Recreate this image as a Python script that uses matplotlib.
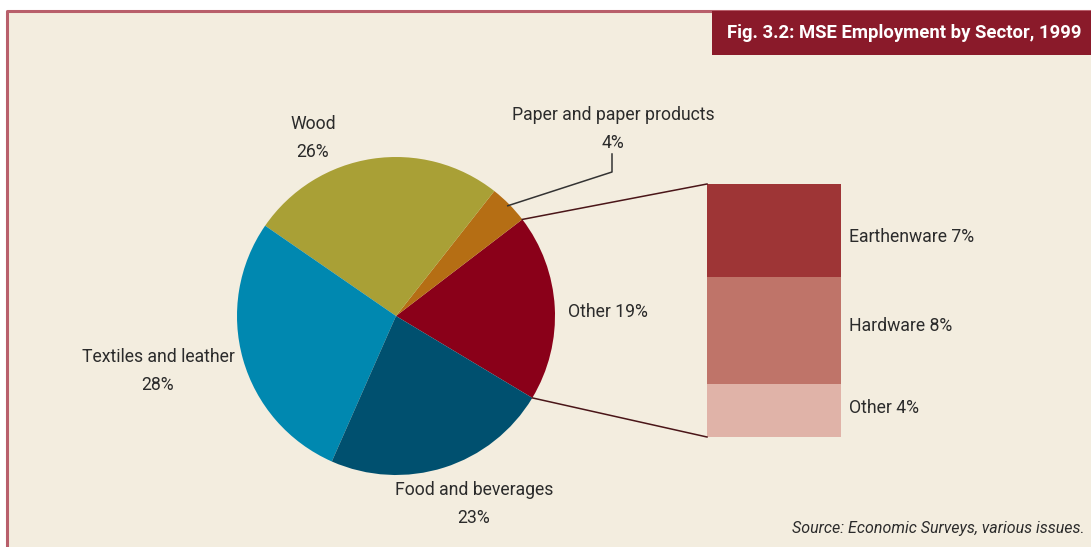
import numpy as np
import matplotlib
matplotlib.use("Agg")
import matplotlib.pyplot as plt
from matplotlib.patches import Rectangle

# ---- data ----
pie_labels = ["Other", "Paper and paper products", "Wood", "Textiles and leather", "Food and beverages"]
pie_values = [19, 4, 26, 28, 23]
pie_colors = ["#8A0019", "#B56E14", "#A9A036", "#0088B0", "#00506F"]

other_labels = ["Earthenware", "Hardware", "Other"]
other_values = [7, 8, 4]
other_colors = ["#9E3536", "#BF7469", "#E0B3A8"]

title = "Fig. 3.2: MSE Employment by Sector, 1999"
source = "Source: Economic Surveys, various issues."

plt.rcParams["font.family"] = ["Roboto", "DejaVu Sans"]

W, H = 1091, 547
bg = "#F3EDDF"
txt = "#2B2B2B"
fs = 12.7

fig = plt.figure(figsize=(W / 100, H / 100), dpi=100)
fig.patch.set_facecolor("white")
ax = fig.add_axes([0, 0, 1, 1])

# pie
cx, cy, r = 396, 231, 159
start = -31
ax.pie(pie_values, colors=pie_colors, startangle=start, counterclock=True,
       center=(cx, cy), radius=r, frame=True,
       wedgeprops=dict(linewidth=0), normalize=True)
ax.set_xlim(0, W)
ax.set_ylim(0, H)
ax.set_aspect("equal")
ax.axis("off")

# panel background and frame
ax.add_patch(Rectangle((7, -5), W, H - 10 + 5, facecolor=bg, edgecolor="none", zorder=-2))
ax.plot([7, 7, W], [-5, H - 11, H - 11], color="#B85F6B", lw=2.2, zorder=1, solid_capstyle="butt")

# title box
ax.add_patch(Rectangle((712, H - 55), W - 712, 44, facecolor="#8A1A2A", edgecolor="none", zorder=2))
ax.text(904, H - 33, title, color="white", fontsize=13.3, fontweight="bold",
        ha="center", va="center", zorder=3)

# stacked bar for the breakdown of "Other"
px_per_pct = 253 / sum(other_values)
bar_x, bar_w, bar_bottom = 774, 134, 110
bottoms = []
b = bar_bottom
for v in other_values[::-1]:
    bottoms.append(b)
    b += v * px_per_pct
bottoms = bottoms[::-1]
heights = [v * px_per_pct for v in other_values]
ax.bar([bar_x] * len(other_values), heights, bottom=bottoms, width=bar_w,
       color=other_colors, linewidth=0, zorder=2)
label_y = [H - 237, H - 326, H - 408]
for lab, v, ly in zip(other_labels, other_values, label_y):
    ax.text(bar_x + bar_w / 2 + 8, ly, f"{lab} {v}%", fontsize=fs,
            color=txt, ha="left", va="center")

# connector lines from the "Other" wedge to the bar
a0 = np.deg2rad(start)
a1 = np.deg2rad(start + pie_values[0] * 3.6)
p_top = (cx + r * np.cos(a1), cy + r * np.sin(a1))
p_bot = (cx + r * np.cos(a0), cy + r * np.sin(a0))
bar_top = bar_bottom + sum(heights)
ax.plot([p_top[0], bar_x - bar_w / 2], [p_top[1], bar_top], color="#4A1518", lw=1.1, zorder=3)
ax.plot([p_bot[0], bar_x - bar_w / 2], [p_bot[1], bar_bottom], color="#4A1518", lw=1.1, zorder=3)

# pie labels
lab_kw = dict(fontsize=fs, color=txt, ha="center", va="center", linespacing=1.65)
ax.text(313, H - 138, f"{pie_labels[2]}\n{pie_values[2]}%", **lab_kw)
ax.text(613, H - 129, f"{pie_labels[1]}\n{pie_values[1]}%", **lab_kw)
ax.text(608, H - 312, f"{pie_labels[0]} {pie_values[0]}%", **lab_kw)
ax.text(158, H - 371, f"{pie_labels[3]}\n{pie_values[3]}%", **lab_kw)
ax.text(474, H - 504, f"{pie_labels[4]}\n{pie_values[4]}%", **lab_kw)

# leader for the small paper wedge
am = np.deg2rad(start + (pie_values[0] + pie_values[1] / 2) * 3.6)
pm = (cx + (r - 2) * np.cos(am), cy + (r - 2) * np.sin(am))
ax.plot([pm[0], 612, 612], [pm[1], H - 172, H - 154], color="#333333", lw=1.1, zorder=3)

# source note
ax.text(1085, H - 529, source, fontsize=11.5, style="italic", color=txt,
        ha="right", va="center")

fig.savefig("out.png", dpi=100, facecolor=fig.get_facecolor())
